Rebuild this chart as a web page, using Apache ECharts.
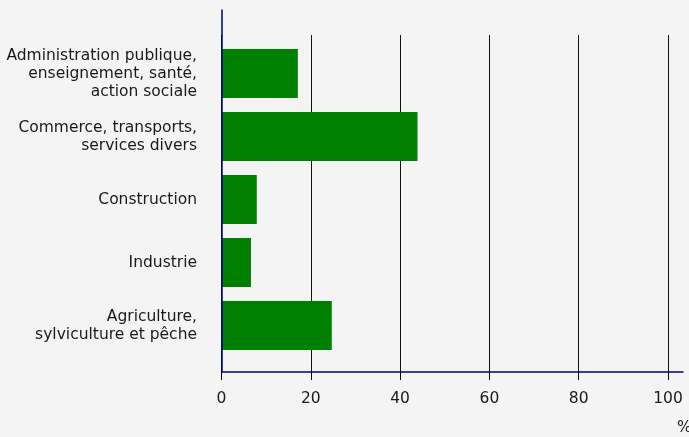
<!DOCTYPE html>
<html><head><meta charset="utf-8">
<script src="https://cdn.jsdelivr.net/npm/echarts@6/dist/echarts.min.js"></script>
<style>html,body{margin:0;padding:0;background:#f4f4f4}#c{width:689px;height:437px}</style>
</head><body><div id="c"></div>
<script>
const categories = [
  "Administration publique,\nenseignement, santé,\naction sociale",
  "Commerce, transports,\nservices divers",
  "Construction",
  "Industrie",
  "Agriculture,\nsylviculture et pêche"
];
const values = [17.1, 43.9, 7.9, 6.6, 24.7];
const xMin = 0, xMax = 100, xStep = 20;
const unitLabel = "%";

const font = "DejaVu Sans";
const chart = echarts.init(document.getElementById('c'), null, {renderer: 'canvas'});
chart.setOption({
  backgroundColor: '#f4f4f4',
  animation: false,
  grid: [
    {left: 221.5, right: 21, top: 42, bottom: 80},
    {left: 221.5, right: 21, top: 35, bottom: 65},
    {left: 221.5, right: 6, top: 10, bottom: 65}
  ],
  xAxis: [
    {gridIndex: 0, type: 'value', min: xMin, max: xMax, show: false},
    {gridIndex: 1, type: 'value', min: xMin, max: xMax, interval: xStep,
      axisLine: {show: false},
      axisTick: {show: true, length: 8, lineStyle: {color: '#000', width: 1}},
      axisLabel: {fontFamily: font, fontSize: 15.5, color: '#1a1a1a', margin: 19},
      splitLine: {show: true, lineStyle: {color: '#111', width: 1}}},
    {gridIndex: 2, type: 'value', min: 0, max: 1, z: 5,
      axisLine: {show: true, lineStyle: {color: '#000080', width: 1.5}},
      axisTick: {show: false}, axisLabel: {show: false}, splitLine: {show: false}}
  ],
  yAxis: [
    {gridIndex: 0, type: 'category', data: categories, inverse: true,
      axisLine: {show: false}, axisTick: {show: false},
      axisLabel: {fontFamily: font, fontSize: 15.5, color: '#1a1a1a', margin: 24.5, lineHeight: 18, align: 'right'}},
    {gridIndex: 1, type: 'value', show: false},
    {gridIndex: 2, type: 'value', min: 0, max: 1, z: 5,
      axisLine: {show: true, lineStyle: {color: '#000080', width: 1.5}},
      axisTick: {show: false}, axisLabel: {show: false}, splitLine: {show: false}}
  ],
  series: [{
    type: 'bar', xAxisIndex: 0, yAxisIndex: 0, data: values,
    barWidth: 49, itemStyle: {color: '#008000'}, z: 3
  }],
  graphic: [{
    type: 'text', left: 677, top: 420,
    style: {text: unitLabel, font: '15.5px "DejaVu Sans"', fill: '#1a1a1a'}
  }]
});
</script></body></html>
